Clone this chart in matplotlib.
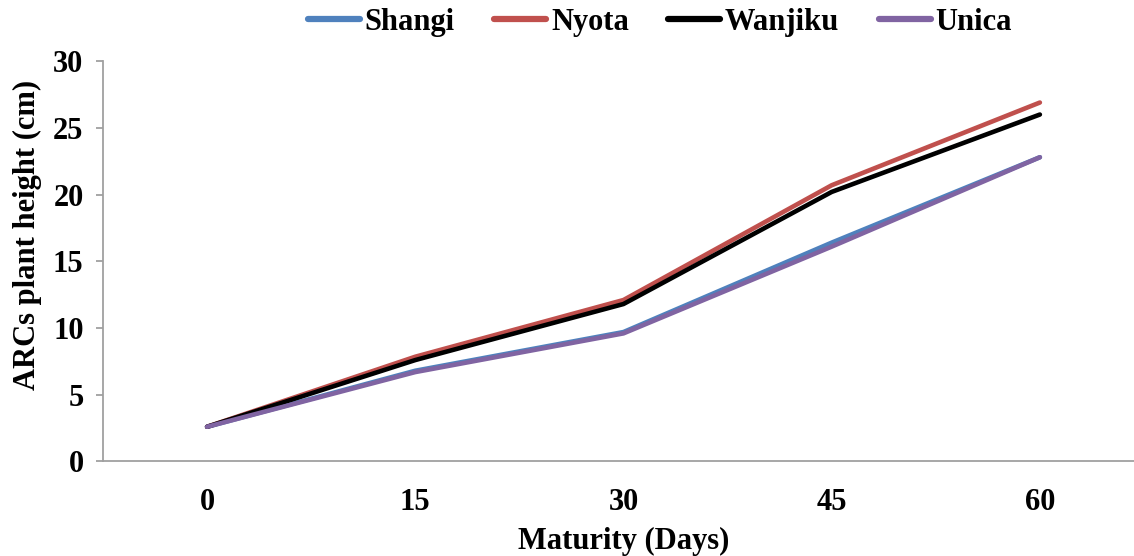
import numpy as np
import matplotlib.pyplot as plt

plt.rcParams['font.family'] = ['Liberation Serif', 'DejaVu Serif']
plt.rcParams['font.weight'] = 'bold'

days = ['0', '15', '30', '45', '60']
shangi = [2.6, 6.8, 9.7, 16.4, 22.8]
nyota = [2.6, 7.85, 12.1, 20.7, 26.9]
wanjiku = [2.6, 7.6, 11.8, 20.2, 26.0]
unica = [2.6, 6.7, 9.6, 16.1, 22.8]

series = [
    ('Shangi', shangi, '#4F81BD'),
    ('Nyota', nyota, '#C0504D'),
    ('Wanjiku', wanjiku, '#000000'),
    ('Unica', unica, '#8064A2'),
]

fs = 22

fig = plt.figure(figsize=(11.34, 5.56), dpi=100)
ax = fig.add_axes([0.0908, 0.170, 0.918, 0.720])

x = np.arange(len(days))
for name, vals, col in series:
    ax.plot(x, vals, color=col, lw=3.3, label=name, solid_capstyle='round',
            solid_joinstyle='round')

ax.set_xlim(-0.5, len(days) - 0.5)
ax.set_ylim(0, 30)
ax.set_yticks(range(0, 31, 5))
ax.set_xticks(x)
ax.set_xticklabels(days)

for s in ['top', 'right']:
    ax.spines[s].set_visible(False)
for s in ['left', 'bottom']:
    ax.spines[s].set_color('#A0A0A0')
    ax.spines[s].set_linewidth(1.3)

ax.tick_params(axis='y', direction='out', length=5, width=1.3, color='#A0A0A0',
               pad=9, labelsize=fs)
ax.tick_params(axis='x', length=0, pad=19, labelsize=fs)
for lab in ax.get_xticklabels() + ax.get_yticklabels():
    lab.set_fontweight('bold')

ax.set_ylabel('ARCs plant height (cm)', fontsize=fs, fontweight='bold')
ax.yaxis.set_label_coords(-0.059, 0.565)
ax.set_xlabel('Maturity (Days)', fontsize=fs, fontweight='bold', labelpad=7)

leg = fig.legend(loc='upper center', bbox_to_anchor=(0.582, 1.035), ncol=4,
                 frameon=False, handlelength=1.7, handletextpad=0.15,
                 columnspacing=1.3, prop={'weight': 'bold', 'size': fs})
for h in leg.get_lines():
    h.set_linewidth(4.5)

fig.savefig('out.png', dpi=100)
